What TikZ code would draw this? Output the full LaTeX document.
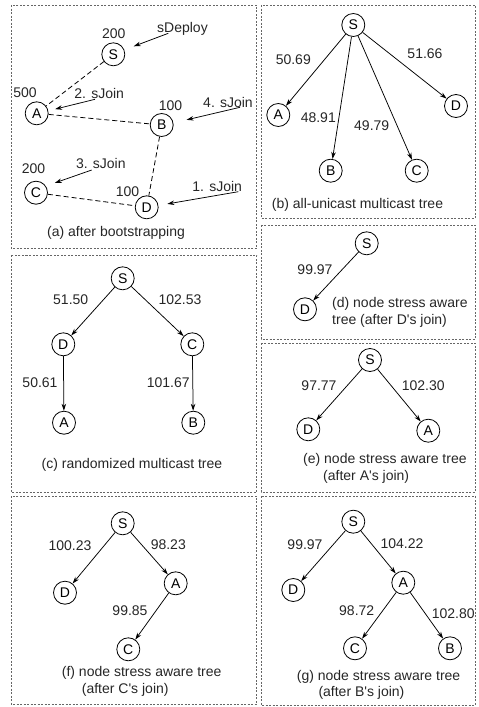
\documentclass[tikz,border=0pt]{standalone}
\usepackage{fontspec}
\setmainfont{Liberation Sans}
\usetikzlibrary{arrows.meta}
\begin{document}
\begin{tikzpicture}[x=1pt,y=-1pt,
  every node/.style={font=\fontsize{14}{17}\selectfont, text=black!85, inner sep=0pt},
  peer/.style={circle, draw=black, line width=0.8pt, minimum size=23pt, text=black},
  panelframe/.style={draw=black!60, line width=0.7pt, dash pattern=on 2pt off 1.5pt},
  peerlink/.style={draw=black, line width=0.8pt, dash pattern=on 5pt off 3pt},
  treearrow/.style={draw=black, line width=0.75pt, -{Stealth[length=7pt,width=4.5pt]}},
  joinarrow/.style={draw=black, line width=0.75pt, -{Stealth[length=7pt,width=4.5pt]}},
]
\useasboundingbox (0,0) rectangle (479,707);

% panel frames
\draw[panelframe] (11,5) rectangle (256.5,248);
\draw[panelframe] (11,255) rectangle (256.5,492);
\draw[panelframe] (11,496) rectangle (256.5,704);
\draw[panelframe] (261,5) rectangle (475,218);
\draw[panelframe] (261,225) rectangle (475,339);
\draw[panelframe] (261,343) rectangle (475,492);
\draw[panelframe] (261,496) rectangle (475,705);

% (a) after bootstrapping
\node[peer] (aS) at (113.3,54.3) {S};
\node[peer] (aA) at (36.7,113.3) {A};
\node[peer] (aB) at (161.7,125) {B};
\node[peer] (aC) at (36,192.7) {C};
\node[peer] (aD) at (146.7,207.3) {D};
\node (wS) at (113.8,33.5) {200};
\node (wA) at (25,92.5) {500};
\node (wB) at (170.5,105.8) {100};
\node (wC) at (33.5,168.7) {200};
\node (wD) at (127.5,192) {100};
\draw[peerlink] (aS) -- (aA);
\draw[peerlink] (aA) -- (aB);
\draw[peerlink] (aB) -- (aD);
\draw[peerlink] (aC) -- (aD);
\node (tDeploy) at (182.5,28.5) {sDeploy};
\node (tJoinA) at (99.2,93.3) {2. sJoin};
\node (tJoinB) at (228,102.5) {4. sJoin};
\node (tJoinC) at (100.8,163.3) {3. sJoin};
\node (tJoinD) at (217.2,186.7) {1. sJoin};
\coordinate (pDeploy) at (168.3,33.3);
\coordinate (pJoinA) at (95,99.3);
\coordinate (pJoinB) at (240,107.3);
\coordinate (pJoinC) at (91.7,170);
\coordinate (pJoinD) at (238.3,191.7);
\draw[joinarrow, shorten >=10pt] (pDeploy) -- (aS.22);
\draw[joinarrow, shorten >=7pt] (pJoinA) -- (aA.12);
\draw[joinarrow, shorten >=13.5pt] (pJoinB) -- (aB.10);
\draw[joinarrow, shorten >=9.5pt] (pJoinC) -- (aC.34);
\draw[joinarrow, shorten >=9pt] (pJoinD) -- (aD.9);
\node (capA) at (116,233) {(a) after bootstrapping};

% (b) all-unicast multicast tree
\node[peer] (bS) at (353.3,25) {S};
\node[peer] (bA) at (278.3,115) {A};
\node[peer] (bB) at (330.7,170.7) {B};
\node[peer] (bC) at (416.7,170.7) {C};
\node[peer] (bD) at (456,106) {D};
\draw[treearrow] (bS) -- (bA);
\draw[treearrow] (bS) -- (bB);
\draw[treearrow] (bS) -- (bC);
\draw[treearrow] (bS) -- (bD);
\node (lbA) at (293.3,60) {50.69};
\node (lbB) at (318.3,118) {48.91};
\node (lbC) at (371.7,126) {49.79};
\node (lbD) at (425,54) {51.66};
\node (capB) at (357.5,205) {(b) all-unicast multicast tree};

% (c) randomized multicast tree
\node[peer] (cS) at (122.7,278.3) {S};
\node[peer] (cD) at (63.3,344.3) {D};
\node[peer] (cC) at (192.3,344.3) {C};
\node[peer] (cA) at (64,422.7) {A};
\node[peer] (cB) at (193.3,422.7) {B};
\draw[treearrow] (cS) -- (cD);
\draw[treearrow] (cS) -- (cC);
\draw[treearrow] (cD) -- (cA);
\draw[treearrow] (cC) -- (cB);
\node (lcD) at (70.7,300) {51.50};
\node (lcC) at (180,300) {102.53};
\node (lcA) at (40,382.7) {50.61};
\node (lcB) at (168.3,382.7) {101.67};
\node (capC) at (132,465) {(c) randomized multicast tree};

% (d) node stress aware tree, after D's join
\node[peer] (dS) at (366.7,243.3) {S};
\node[peer] (dD) at (305,309.3) {D};
\draw[treearrow] (dS) -- (dD);
\node (ldD) at (315,269.3) {99.97};
\node[anchor=west, align=left] (capD) at (332,312.5)
  {(d) node stress aware\\tree (after D\textquotesingle s join)};

% (e) node stress aware tree, after A's join
\node[peer] (eS) at (370,360) {S};
\node[peer] (eD) at (308.3,429.3) {D};
\node[peer] (eA) at (428.3,430.7) {A};
\draw[treearrow] (eS) -- (eD);
\draw[treearrow] (eS) -- (eA);
\node (leD) at (319,385.7) {97.77};
\node (leA) at (423.3,385.7) {102.30};
\node[anchor=west] (capE1) at (303,460) {(e) node stress aware tree};
\node[anchor=west] (capE2) at (323,477) {(after A\textquotesingle s join)};

% (f) node stress aware tree, after C's join
\node[peer] (fS) at (122.7,523.3) {S};
\node[peer] (fD) at (65,592.7) {D};
\node[peer] (fA) at (175.7,583.3) {A};
\node[peer] (fC) at (128.3,649.3) {C};
\draw[treearrow] (fS) -- (fD);
\draw[treearrow] (fS) -- (fA);
\draw[treearrow] (fA) -- (fC);
\node (lfD) at (70,546) {100.23};
\node (lfA) at (168.3,545) {98.23};
\node (lfC) at (130,610.7) {99.85};
\node[anchor=west] (capF1) at (61.7,673.3) {(f) node stress aware tree};
\node[anchor=west] (capF2) at (81.7,690) {(after C\textquotesingle s join)};

% (g) node stress aware tree, after B's join
\node[peer] (gS) at (353.3,521.7) {S};
\node[peer] (gD) at (293.3,590) {D};
\node[peer] (gA) at (403.3,582.7) {A};
\node[peer] (gC) at (355,648.3) {C};
\node[peer] (gB) at (450,648.3) {B};
\draw[treearrow] (gS) -- (gD);
\draw[treearrow] (gS) -- (gA);
\draw[treearrow] (gA) -- (gC);
\draw[treearrow] (gA) -- (gB);
\node (lgD) at (305,545) {99.97};
\node (lgA) at (402,543.3) {104.22};
\node (lgC) at (356.7,610.7) {98.72};
\node (lgB) at (453.3,614) {102.80};
\node[anchor=west] (capG1) at (296.7,676.7) {(g) node stress aware tree};
\node[anchor=west] (capG2) at (318.3,693.3) {(after B\textquotesingle s join)};
\end{tikzpicture}
\end{document}
